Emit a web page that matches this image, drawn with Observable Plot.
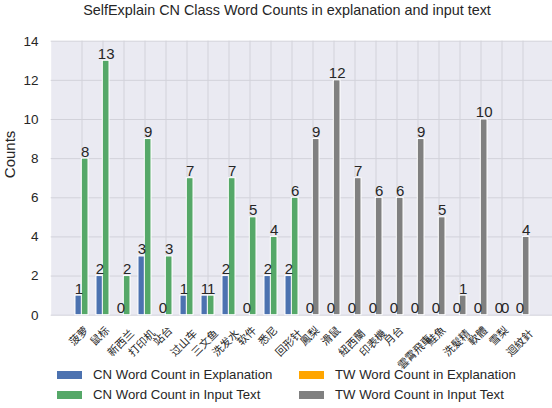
<!DOCTYPE html>
<html>
<head>
<meta charset="utf-8">
<script src="https://cdn.jsdelivr.net/npm/d3@7"></script>
<script src="https://cdn.jsdelivr.net/npm/@observablehq/plot@0.6"></script>
<style>
  body { margin: 0; background: #fff; }
  #wrap { position: relative; width: 552px; height: 408px; overflow: hidden;
          font-family: "Liberation Sans", Arial, sans-serif; color: #262626; }
  #title { position: absolute; left: 0; top: 3px; width: 574px; text-align: center;
           font-size: 14.4px; line-height: 1; white-space: nowrap; }
  #chart { position: absolute; left: 0; top: 0; }
  .sw { position: absolute; width: 25px; height: 8px; }
  .lt { position: absolute; font-size: 13.2px; line-height: 20px; white-space: nowrap; }
</style>
</head>
<body>
<div id="wrap">
  <div id="chart"></div>
  <div id="title">SelfExplain CN Class Word Counts in explanation and input text</div>
  <div id="legend"></div>
</div>
<script>
const categories = ["菠萝","鼠标","新西兰","打印机","站台","过山车","三文鱼","洗发水","软件","悉尼","回形针",
                    "鳳梨","滑鼠","紐西蘭","印表機","月台","雲霄飛車","鮭魚","洗髮精","軟體","雪梨","迴紋針"];
const cnExplanation = [1,2,0,3,0,1,1,2,0,2,2, null,null,null,null,null,null,null,null,null,null,null];
const cnInput       = [8,13,2,9,3,7,1,7,5,4,6, null,null,null,null,null,null,null,null,null,null,null];
const twExplanation = [null,null,null,null,null,null,null,null,null,null,null, 0,0,0,0,0,0,0,0,0,0,0];
const twInput       = [null,null,null,null,null,null,null,null,null,null,null, 9,12,7,6,6,9,5,1,10,0,4];
const seriesNames = ["CN Word Count in Explanation","CN Word Count in Input Text",
                     "TW Word Count in Explanation","TW Word Count in Input Text"];
const seriesColors = ["#4c72b0","#55a868","#ffa500","#808080"];
const yTicks = [0,2,4,6,8,10,12,14];

const seriesValues = [cnExplanation, cnInput, twExplanation, twInput];
const rows = [];
seriesValues.forEach((vals, s) => vals.forEach((v, i) => {
  if (v !== null) rows.push({category: categories[i], value: v, series: seriesNames[s], slot: s % 2});
}));
const left = rows.filter(d => d.slot === 0);
const right = rows.filter(d => d.slot === 1);

const step = 21.06, half = step * 0.6 / 2;
const cjk = '"Noto Sans CJK SC", "Noto Sans CJK TC", sans-serif';
const labelDy = {2: 21, 3: 28, 4: 37};
const labelMarks = [2,3,4].map(n => Plot.text(categories.filter(c => c.length === n), {
  x: d => d, text: d => d, frameAnchor: "bottom", dy: labelDy[n], dx: -3,
  rotate: -45, textAnchor: "middle", lineAnchor: "middle",
  fontFamily: cjk, fontSize: 10.8, fill: "#262626"
}));

const chart = Plot.plot({
  width: 552, height: 408,
  marginTop: 40.7, marginBottom: 93.3, marginLeft: 50.7, marginRight: 0,
  style: {fontFamily: '"Liberation Sans", Arial, sans-serif', fontSize: "13.5px",
          color: "#262626", background: "transparent", overflow: "visible"},
  x: {type: "band", domain: categories, range: [50.7, 553.6],
      paddingInner: 0.4, paddingOuter: 1.139, axis: null},
  y: {domain: [0, 14], ticks: yTicks, tickSize: 0, tickPadding: 12.7, label: null},
  color: {domain: seriesNames, range: seriesColors},
  marks: [
    Plot.frame({fill: "#eaeaf2", stroke: "none"}),
    Plot.ruleY(yTicks, {stroke: "#d2d2da", strokeWidth: 1}),
    Plot.ruleX(categories, {x: d => d, stroke: "#d2d2da", strokeWidth: 1}),
    Plot.barY(left, {x: "category", y1: 0, y2: "value", fill: "series",
                     stroke: "white", strokeWidth: 1, insetRight: half}),
    Plot.barY(right, {x: "category", y1: 0, y2: "value", fill: "series",
                      stroke: "white", strokeWidth: 1, insetLeft: half}),
    Plot.text(left, {x: "category", y: "value", text: d => String(d.value), dx: -half / 2, dy: -2,
                     lineAnchor: "bottom", fontSize: 15, fill: "#262626"}),
    Plot.text(right, {x: "category", y: "value", text: d => String(d.value), dx: half / 2, dy: -2,
                      lineAnchor: "bottom", fontSize: 15, fill: "#262626"}),
    ...labelMarks,
    Plot.text(["Counts"], {text: d => d, frameAnchor: "left", dx: -40.7, rotate: -90,
                           fontSize: 15, fill: "#262626"})
  ]
});
document.getElementById("chart").appendChild(chart);

// legend (two columns, matplotlib order)
const legend = document.getElementById("legend");
const pos = [{x: 57, y: 365}, {x: 57, y: 385}, {x: 299, y: 365}, {x: 299, y: 385}];
seriesNames.forEach((name, i) => {
  const sw = document.createElement("div");
  sw.className = "sw";
  sw.style.left = pos[i].x + "px";
  sw.style.top = (pos[i].y + 6) + "px";
  sw.style.background = seriesColors[i];
  legend.appendChild(sw);
  const t = document.createElement("div");
  t.className = "lt";
  t.style.left = (pos[i].x + 36) + "px";
  t.style.top = pos[i].y + "px";
  t.textContent = name;
  legend.appendChild(t);
});
</script>
</body>
</html>
